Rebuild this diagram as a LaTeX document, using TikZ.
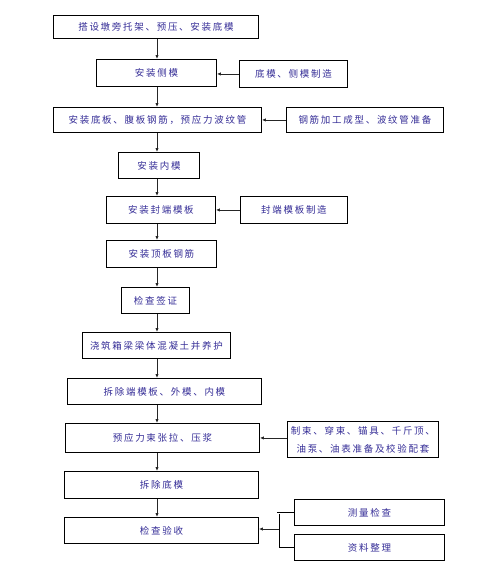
\documentclass[tikz,border=0pt]{standalone}
\usepackage{fontspec}
\newfontfamily\cjk[LetterSpace=18]{Noto Sans CJK SC}
\usetikzlibrary{arrows.meta}
\definecolor{txt}{RGB}{52,44,150}
\tikzset{
  box/.style={draw=black, line width=0.9pt, inner sep=0pt, font=\cjk\fontsize{9.5}{11}\selectfont, text=txt, anchor=north west},
  arr/.style={draw=black!85, line width=0.9pt, -{Latex[length=4pt,width=3.4pt]}},
  ln/.style={draw=black, line width=0.9pt}
}
\newcommand{\bx}[6]{\node[box, minimum width=#4-#2, minimum height=#5-#3] (#1) at (#2,#3) {#6};}
\begin{document}
\begin{tikzpicture}[x=1pt,y=-1pt]
\useasboundingbox (0,0) rectangle (482,576);
\coordinate (spine) at (157,0);
\bx{b1}{53}{15}{258}{38}{搭设墩旁托架、预压、安装底模}
\bx{b2}{96}{59}{216}{86}{安装侧模}
\bx{s2}{239}{60}{347}{87}{底模、侧模制造}
\bx{b3}{53}{107}{261}{132}{安装底板、腹板钢筋，预应力波纹管}
\bx{s3}{286}{107}{443}{132}{钢筋加工成型、波纹管准备}
\bx{b4}{118}{152}{199}{178}{安装内模}
\bx{b5}{106}{196}{215}{223}{安装封端模板}
\bx{s5}{240}{196}{347}{223}{封端模板制造}
\bx{b6}{106}{240}{216}{267}{安装顶板钢筋}
\bx{b7}{121}{287}{189}{313}{检查签证}
\bx{b8}{82}{332}{230}{358}{浇筑箱梁梁体混凝土并养护}
\bx{b9}{67}{378}{261}{404}{拆除端模板、外模、内模}
\bx{b10}{65}{423}{259}{452}{预应力束张拉、压浆}
\node[box, minimum width=151, minimum height=36, align=center, font=\cjk\fontsize{9.5}{18}\selectfont] (s10) at (287,421) {制束、穿束、锚具、千斤顶、\\油泵、油表准备及校验配套};
\bx{b11}{64}{471}{258}{498}{拆除底模}
\bx{b12}{64}{517}{258}{543}{检查验收}
\bx{s12a}{294}{499}{444}{525}{测量检查}
\bx{s12b}{294}{534}{444}{560}{资料整理}
% main chain
\foreach \a/\b in {b1/b2,b2/b3,b3/b4,b4/b5,b5/b6,b6/b7,b7/b8,b8/b9,b9/b10,b10/b11,b11/b12}
  \draw[arr] (\a.south -| spine) -- (\b.north -| spine);
% side inputs
\draw[arr] (s2.west) -- (s2.west -| b2.east);
\draw[arr] (s3.west) -- (s3.west -| b3.east);
\draw[arr] (s5.west) -- (s5.west -| b5.east);
\draw[arr] (s10.west |- b10.east) -- (b10.east);
% bracket
\coordinate (brk) at (279,529);
\draw[ln] (s12a.west) -- ++(-17,0);
\draw[ln] (s12b.west) -- (s12b.west -| brk);
\draw[ln] (brk |- 0,514) -- (brk |- s12b.west);
\draw[arr] (brk) -- (brk -| b12.east);
\end{tikzpicture}
\end{document}
